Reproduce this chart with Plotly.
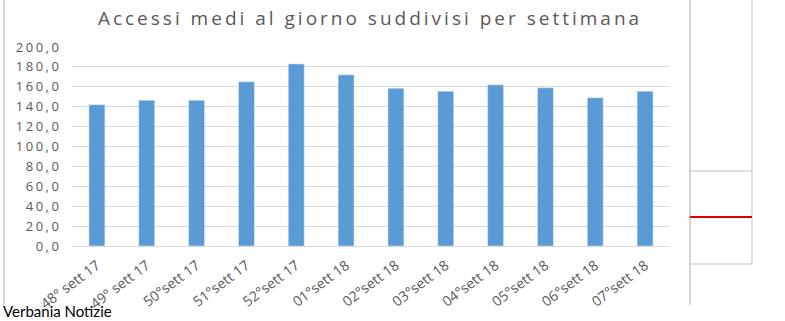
import plotly.graph_objects as go

categories = ["48° sett 17", "49° sett 17", "50°sett 17", "51°sett 17", "52°sett 17",
              "01°sett 18", "02°sett 18", "03°sett 18", "04°sett 18", "05°sett 18",
              "06°sett 18", "07°sett 18"]
values = [142.0, 146.5, 146.5, 165.0, 183.0, 172.0, 158.5, 155.5, 162.0, 159.0, 149.0, 155.5]
y_ticks = [0, 20, 40, 60, 80, 100, 120, 140, 160, 180, 200]
title_text = "Accessi medi al giorno suddivisi per settimana"

W, H = 785, 321
L, R, T, B = 72, 670, 47, 246  # plot area in pixels

def px(x):
    return (x - L) / (R - L)

def py(y):
    return (B - y) / (B - T)

def spaced(s, ls):
    return f'<span style="letter-spacing:{ls}px">{s}</span>'

fig = go.Figure(go.Bar(
    x=categories, y=values, marker_color="#5B9BD5", width=0.32,
))

grey = "#595959"
shapes = [
    dict(type="line", xref="paper", yref="paper", x0=px(4), x1=px(4), y0=py(0), y1=py(305),
         line=dict(color="#D9D9D9", width=2)),
    dict(type="line", xref="paper", yref="paper", x0=px(690), x1=px(690), y0=py(0), y1=py(305),
         line=dict(color="#D4D4D4", width=2)),
    dict(type="line", xref="paper", yref="paper", x0=px(752), x1=px(752), y0=py(0), y1=py(264),
         line=dict(color="#BFBFBF", width=1)),
    dict(type="line", xref="paper", yref="paper", x0=px(690), x1=px(752), y0=py(171), y1=py(171),
         line=dict(color="#BFBFBF", width=1)),
    dict(type="line", xref="paper", yref="paper", x0=px(690), x1=px(752), y0=py(264), y1=py(264),
         line=dict(color="#BFBFBF", width=1)),
    dict(type="line", xref="paper", yref="paper", x0=px(690), x1=px(752), y0=py(217), y1=py(217),
         line=dict(color="#E00000", width=2)),
]

y_labels = [spaced(f"{v:.1f}".replace(".", ","), 2.5) for v in y_ticks]

fig.update_layout(
    width=W, height=H,
    margin=dict(l=L, r=W - R, t=T, b=H - B, pad=0),
    paper_bgcolor="white", plot_bgcolor="white",
    showlegend=False,
    title=dict(text=spaced(title_text, 3),
               x=370 / W, xanchor="center", y=1 - 18 / H, yanchor="middle",
               font=dict(family="Open Sans", size=19, color=grey)),
    xaxis=dict(tickangle=-37,
               tickfont=dict(family="Open Sans", size=14, color=grey),
               showgrid=False, showline=False, ticks="outside", ticklen=5,
               tickcolor="rgba(0,0,0,0)", automargin=False),
    yaxis=dict(range=[0, 200], tickvals=y_ticks, ticktext=y_labels,
               tickfont=dict(family="Open Sans", size=13, color=grey),
               showgrid=True, gridcolor="#D9D9D9", gridwidth=1,
               zeroline=True, zerolinecolor="#D9D9D9", zerolinewidth=1,
               showline=False, ticks="outside", ticklen=7, tickcolor="rgba(0,0,0,0)",
               automargin=False),
    shapes=shapes,
    annotations=[dict(text="Verbania Notizie", xref="paper", yref="paper",
                      x=px(1), y=py(311), xanchor="left", yanchor="middle", showarrow=False,
                      font=dict(family="Lato", size=15, color="black"))],
)

fig.write_html("out.html")
